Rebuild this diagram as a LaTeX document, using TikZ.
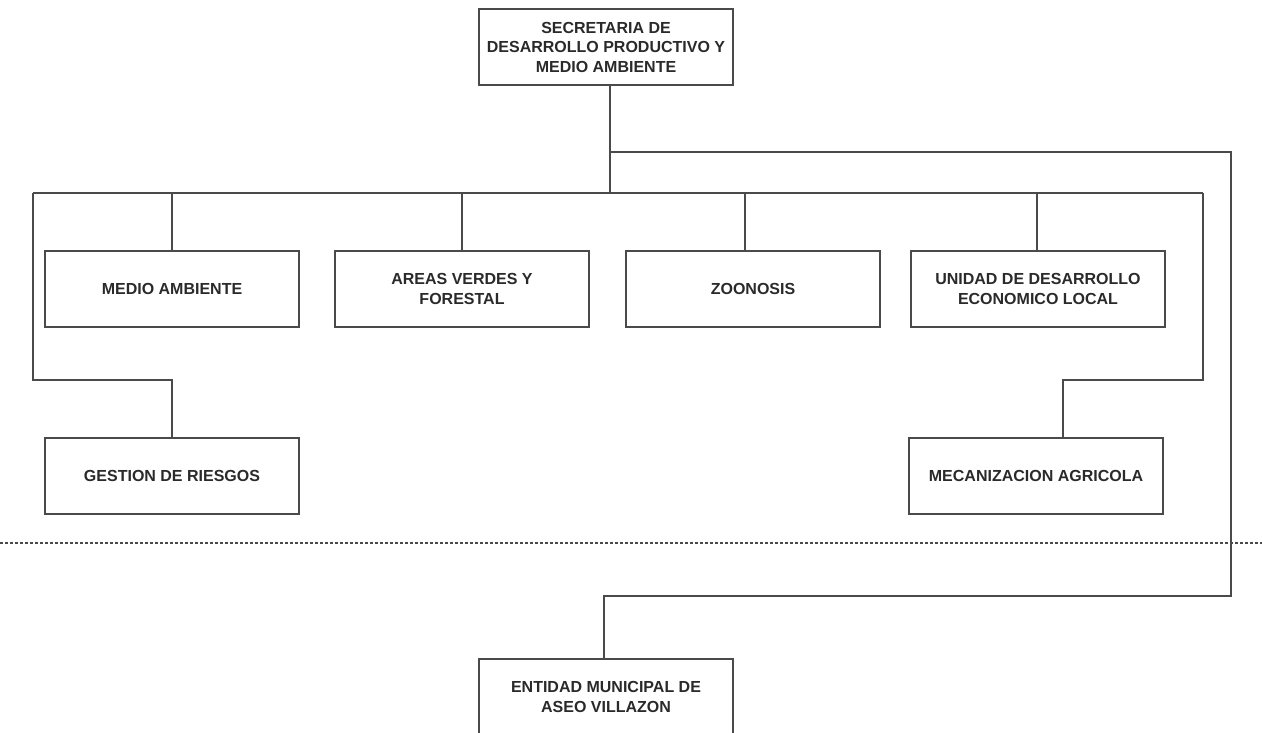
\documentclass[tikz,border=0pt]{standalone}
\usepackage{fontspec}
\setmainfont{Liberation Sans}
\begin{document}
\definecolor{linegray}{HTML}{4A4A4A}
\definecolor{textgray}{HTML}{2A2A2A}
\begin{tikzpicture}[x=1pt,y=-1pt,
  unitbox/.style={draw=linegray,line width=2pt,fill=white,minimum width=254pt,minimum height=76pt,
    inner sep=0pt,outer sep=0pt,align=center,text=textgray,font=\bfseries\fontsize{16}{19.5}\selectfont},
  link/.style={draw=linegray,line width=2pt},
  divider/.style={draw=linegray,line width=2.6pt,dash pattern=on 3pt off 2pt}]
\clip (0,0) rectangle (1262,732);
\fill[white] (0,0) rectangle (1262,732);

% boxes
\node[unitbox] (sec) at (606,47) {SECRETARIA DE\\DESARROLLO PRODUCTIVO Y\\MEDIO AMBIENTE};
\node[unitbox] (med) at (172,289) {MEDIO AMBIENTE};
\node[unitbox] (are) at (462,289) {AREAS VERDES Y\\FORESTAL};
\node[unitbox] (zoo) at (753,289) {ZOONOSIS};
\node[unitbox] (ude) at (1038,289) {UNIDAD DE DESARROLLO\\ECONOMICO LOCAL};
\node[unitbox] (ges) at (172,476) {GESTION DE RIESGOS};
\node[unitbox] (mec) at (1036,476) {MECANIZACION AGRICOLA};
\node[unitbox] (ent) at (606,697) {ENTIDAD MUNICIPAL DE\\ASEO VILLAZON};

% junction points
\coordinate (bus) at (610,193);
\coordinate (busL) at (33,193);
\coordinate (busR) at (1203,193);
\coordinate (br) at (610,152);
\coordinate (brR) at (1231,152);
\coordinate (brB) at (1231,596);

% main bus
\draw[link] ([xshift=4pt]sec.south) -- (bus);
\draw[link] (busL) -- (busR);
\draw[link] (med.north) -- (med.north |- bus);
\draw[link] (are.north) -- (are.north |- bus);
\draw[link] ([xshift=-8pt]zoo.north) -- ([xshift=-8pt]zoo.north |- bus);
\draw[link] ([xshift=-1pt]ude.north) -- ([xshift=-1pt]ude.north |- bus);

% lower units
\draw[link] (busL) -- ++(0,187) -| (ges.north);
\draw[link] (busR) -- ++(0,187) -| ([xshift=27pt]mec.north);

% branch to the municipal entity
\draw[link] (br) -- (brR) -- (brB) -| ([xshift=-2pt]ent.north);

% separator
\draw[divider] (0,543) -- (1262,543);
\end{tikzpicture}
\end{document}
